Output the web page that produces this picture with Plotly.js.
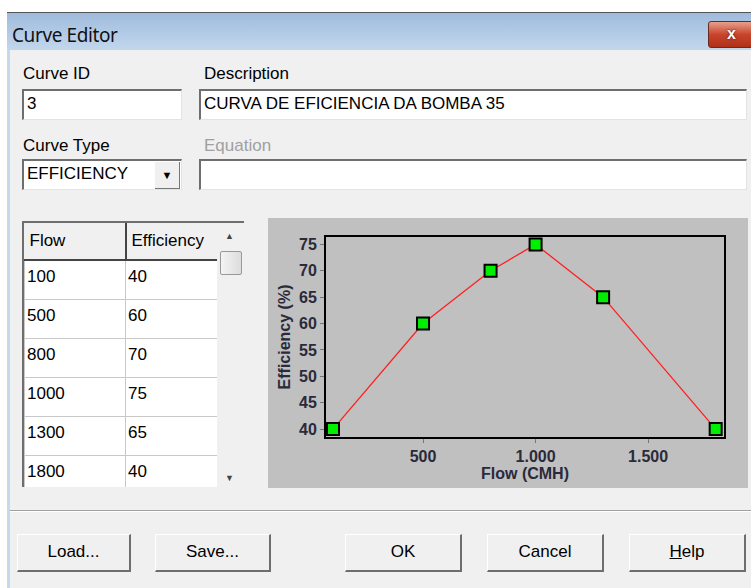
<!DOCTYPE html>
<html><head><meta charset="utf-8">
<script src="https://cdn.plot.ly/plotly-3.0.1.min.js"></script>
<style>
body{margin:0;width:751px;height:588px;position:relative;overflow:hidden;background:#fff;font-family:"Liberation Sans",Arial,sans-serif;font-size:17px;color:#000}
.abs{position:absolute}
#titlebar{left:7px;top:12px;width:744px;height:38px;background:linear-gradient(#9fbbdc,#c3d8ee);border-top:1px solid #555;}
#titlebar span{position:absolute;left:5px;top:9px;font-family:"Noto Sans",sans-serif;font-size:19px;color:#111;letter-spacing:-0.4px}
#close{left:708px;top:21px;width:45px;height:25px;border:1px solid #6b2a20;border-radius:3px;background:linear-gradient(#e8a08a,#c8452c 50%,#b03018);color:#fff;font-weight:bold;font-size:16px;text-align:center;line-height:24px;text-shadow:0 0 2px #400}
#body{left:7px;top:50px;width:744px;height:538px;background:#f0f0f0;border-left:3px solid #c5d8ee}
.lbl{font-size:17px}
.inp{background:#fff;border-top:2px solid #6e6e6e;border-left:2px solid #6e6e6e;border-right:1px solid #e3e3e3;border-bottom:1px solid #e3e3e3;box-sizing:border-box;padding:3px 0 0 3px;font-size:17px}
.btn{box-sizing:border-box;background:#f0f0f0;border-top:1px solid #fff;border-left:1px solid #fff;border-right:2px solid #6e6e6e;border-bottom:2px solid #6e6e6e;text-align:center;line-height:34px;font-size:17px}
table{border-collapse:collapse}
#grid{left:22px;top:221px;width:222px;height:266px;border-top:2px solid #6e6e6e;border-left:2px solid #6e6e6e;background:#f0f0f0;box-sizing:border-box;overflow:hidden}
#grid td{border:1px solid #c8c8c8;height:39px;padding:0 0 0 2px;vertical-align:top;padding-top:6px;box-sizing:border-box;background:#fff;font-size:17px}
#grid th{font-weight:normal;text-align:left;height:36px;padding:0 0 0 5px;background:#f0f0f0;border-right:2px solid #444;border-bottom:2px solid #444;font-size:17px}
#scroll{left:217px;top:223px;width:27px;height:264px;background:#f0f0f0}
#panel{left:268px;top:218px;width:480px;height:270px;box-sizing:border-box;border-top:2px solid #808080;border-left:2px solid #808080;border-right:1px solid #fff;border-bottom:1px solid #fff;background:#c0c0c0}
#chart{position:absolute;left:-2px;top:-2px;width:480px;height:270px}
</style></head>
<body>
<div id="titlebar" class="abs"><span>Curve Editor</span></div>
<div id="close" class="abs">x</div>
<div id="body" class="abs"></div>

<div class="abs lbl" style="left:23px;top:64px">Curve ID</div>
<div class="abs inp" style="left:22px;top:89px;width:160px;height:31px" id="cid"></div>
<div class="abs lbl" style="left:204px;top:64px">Description</div>
<div class="abs inp" style="left:199px;top:89px;width:548px;height:31px" id="desc"></div>

<div class="abs lbl" style="left:23px;top:136px">Curve Type</div>
<div class="abs inp" style="left:22px;top:159px;width:160px;height:31px" id="ctype"></div>
<div class="abs" style="left:155px;top:162px;width:24px;height:26px;background:#f0f0f0;border-right:1px solid #777;border-bottom:1px solid #777;text-align:center;font-size:11px;line-height:26px">&#9660;</div>
<div class="abs lbl" style="left:204px;top:136px;color:#a0a0a0">Equation</div>
<div class="abs inp" style="left:199px;top:159px;width:548px;height:31px"></div>

<div id="grid" class="abs"><table id="tbl"></table></div>
<div id="scroll" class="abs">
  <div class="abs" style="left:8px;top:8px;font-size:9px;color:#444">&#9650;</div>
  <div class="abs" style="left:3px;top:28px;width:20px;height:22px;border:1px solid #999;border-radius:2px;background:linear-gradient(90deg,#f4f4f4,#dcdcdc)"></div>
  <div class="abs" style="left:8px;top:250px;font-size:9px;color:#444">&#9660;</div>
</div>

<div id="panel" class="abs"><div id="chart"></div></div>

<div class="abs" style="left:10px;top:510px;width:741px;height:1px;background:#a0a0a0;border-bottom:1px solid #fff"></div>

<div class="abs btn" style="left:17px;top:534px;width:114px;height:38px">Load...</div>
<div class="abs btn" style="left:155px;top:534px;width:116px;height:38px">Save...</div>
<div class="abs btn" style="left:345px;top:534px;width:117px;height:38px">OK</div>
<div class="abs btn" style="left:487px;top:534px;width:117px;height:38px">Cancel</div>
<div class="abs btn" style="left:629px;top:534px;width:117px;height:38px"><u>H</u>elp</div>

<script>
const curveId = "3";
const description = "CURVA DE EFICIENCIA DA BOMBA 35";
const curveType = "EFFICIENCY";
const columnLabels = ["Flow", "Efficiency"];
const flow = [100, 500, 800, 1000, 1300, 1800];
const efficiency = [40, 60, 70, 75, 65, 40];
const xTitle = "Flow (CMH)";
const yTitle = "Efficiency (%)";

document.getElementById('cid').textContent = curveId;
document.getElementById('desc').textContent = description;
document.getElementById('ctype').textContent = curveType;

const tbl = document.getElementById('tbl');
let html = '<tr><th style="width:95px">' + columnLabels[0] + '</th><th style="width:96px">' + columnLabels[1] + '</th></tr>';
for (let i = 0; i < flow.length; i++) {
  html += '<tr><td>' + flow[i] + '</td><td>' + efficiency[i] + '</td></tr>';
}
tbl.innerHTML = html;

const tickFont = {family: 'Liberation Sans, Arial, sans-serif', size: 16, color: '#2a2a3a', weight: 'bold'};
Plotly.newPlot('chart', [{
  x: flow, y: efficiency, type: 'scatter', mode: 'lines+markers',
  line: {color: '#ff2020', width: 1.3},
  marker: {symbol: 'square', size: 12, color: '#00ee00', line: {color: '#000', width: 2}},
  cliponaxis: false
}], {
  width: 480, height: 270,
  margin: {l: 58, r: 24, t: 19, b: 51},
  paper_bgcolor: '#c0c0c0', plot_bgcolor: '#c0c0c0',
  separators: ',.',
  showlegend: false,
  xaxis: {range: [69, 1837], tickvals: [500, 1000, 1500], tickformat: ',d', ticks: 'outside', ticklen: 4, tickcolor: '#777',
    showgrid: false, zeroline: false, showline: true, linecolor: '#000', linewidth: 2, mirror: true,
    tickfont: tickFont, title: {text: xTitle, font: tickFont, standoff: 4}},
  yaxis: {range: [38.5, 76.4], dtick: 5, ticks: 'outside', ticklen: 4, tickcolor: '#777',
    showgrid: false, zeroline: false, showline: true, linecolor: '#000', linewidth: 2, mirror: true,
    tickfont: tickFont, title: {text: yTitle, font: tickFont, standoff: 4}}
}, {staticPlot: true});
</script>
</body></html>
